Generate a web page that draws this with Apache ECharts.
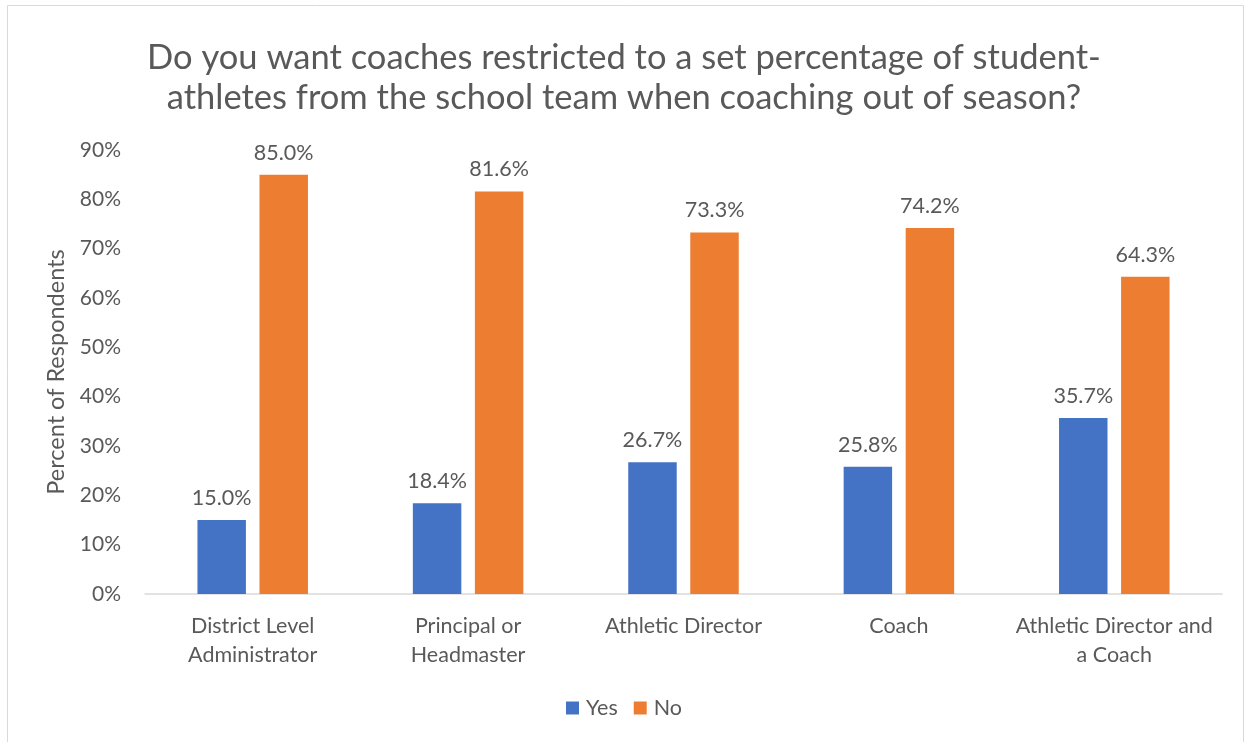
<!DOCTYPE html>
<html>
<head>
<meta charset="utf-8">
<script src="https://cdn.jsdelivr.net/npm/echarts@6/dist/echarts.min.js"></script>
<style>
  html, body { margin: 0; padding: 0; background: #fff; }
  #chart { width: 1248px; height: 742px; }
</style>
</head>
<body>
<div id="chart"></div>
<script>
// survey answers by role
var roles = [ 'District Level\nAdministrator', 'Principal or\nHeadmaster', 'Athletic Director', 'Coach', 'Athletic Director and\na Coach' ];
var yesVals = [ 15.0, 18.4, 26.7, 25.8, 35.7 ];
var noVals = [ 85.0, 81.6, 73.3, 74.2, 64.3 ];
var seriesNames = [ 'Yes', 'No' ];

var textColor = '#595959';
var font = 'Lato, "Liberation Sans", sans-serif';

var myChart = echarts.init( document.getElementById( 'chart' ) );

function labelOpt() {
  return {
    show: true,
    position: 'top',
    distance: 11,
    color: textColor,
    fontSize: 21.5,
    fontFamily: font,
    formatter: function( p ) { return p.value.toFixed( 1 ) + '%'; }
  };
}

var option = {
  backgroundColor: '#fff',
  animation: false,
  textStyle: { fontFamily: font },
  title: {
    text: 'Do you want coaches restricted to a set percentage of student-\nathletes from the school team when coaching out of season?',
    left: 'center',
    top: 33,
    textStyle: { color: textColor, fontSize: 34.5, fontWeight: 'normal', lineHeight: 40, fontFamily: font }
  },
  legend: {
    data: seriesNames,
    bottom: 18,
    left: 'center',
    itemWidth: 13,
    itemHeight: 13,
    itemGap: 16,
    icon: 'rect',
    textStyle: { color: textColor, fontSize: 21.5, fontFamily: font, padding: [ 0, 0, 0, 2 ] }
  },
  grid: { left: 145, right: 26, top: 150, bottom: 148 },
  xAxis: {
    type: 'category',
    data: roles,
    axisLine: { lineStyle: { color: '#d9d9d9', width: 1.5 } },
    axisTick: { show: false },
    axisLabel: { interval: 0, color: textColor, fontSize: 21.5, lineHeight: 29, margin: 18, fontFamily: font }
  },
  yAxis: {
    type: 'value',
    min: 0,
    max: 90,
    interval: 10,
    name: 'Percent of Respondents',
    nameLocation: 'middle',
    nameGap: 72,
    nameTextStyle: { color: textColor, fontSize: 23.5, fontFamily: font },
    splitLine: { show: false },
    axisLine: { show: false },
    axisTick: { show: false },
    axisLabel: { color: textColor, fontSize: 21, margin: 24, fontFamily: font, formatter: '{value}%' }
  },
  series: [
    {
      name: seriesNames[ 0 ],
      type: 'bar',
      data: yesVals,
      barWidth: '22.5%',
      barGap: '28%',
      itemStyle: { color: '#4472c4' },
      label: labelOpt()
    },
    {
      name: seriesNames[ 1 ],
      type: 'bar',
      data: noVals,
      barWidth: '22.5%',
      barGap: '28%',
      itemStyle: { color: '#ed7d31' },
      label: labelOpt()
    }
  ],
  graphic: [ {
    type: 'rect',
    shape: { x: 7.5, y: 5.5, width: 1236, height: 745 },
    style: { fill: 'none', stroke: '#d9d9d9', lineWidth: 1 },
    silent: true
  } ]
};

myChart.setOption( option );
</script>
</body>
</html>
